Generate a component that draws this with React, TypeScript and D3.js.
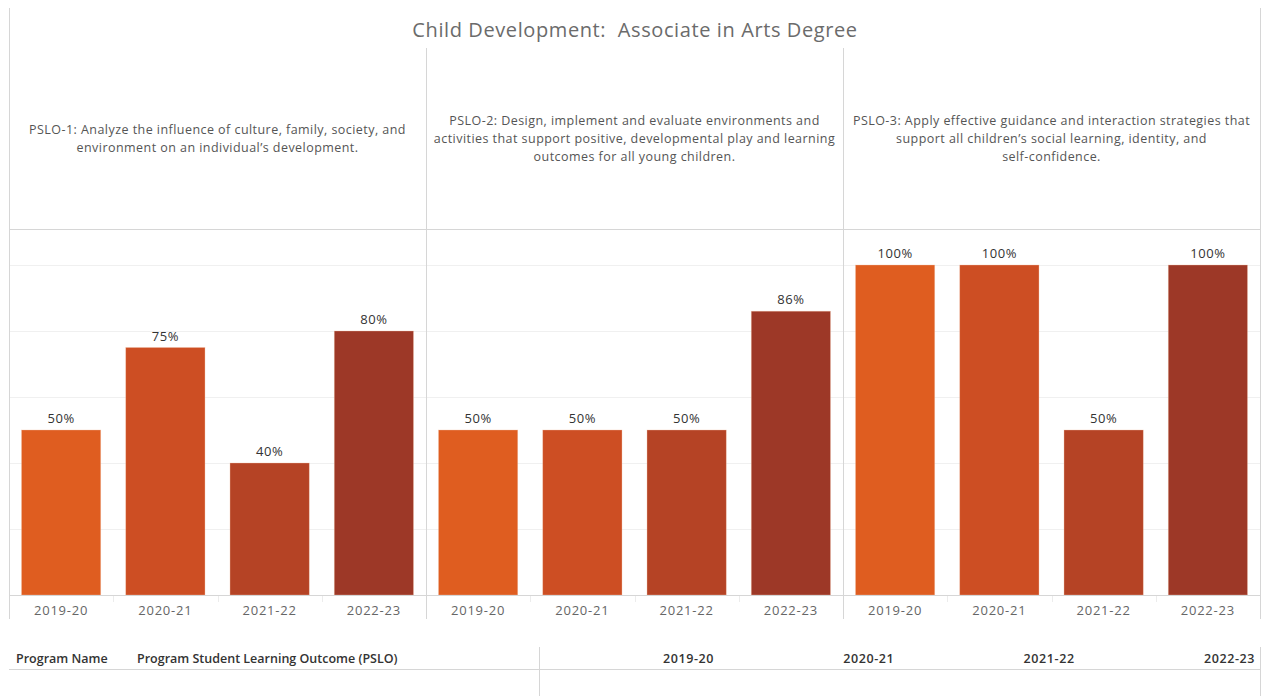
import { useEffect, useRef } from "react";
import * as d3 from "d3";

// Chart data
const years = ["2019-20", "2020-21", "2021-22", "2022-23"];
const pslos = ["PSLO-1", "PSLO-2", "PSLO-3"];
const pslo1Values = [0.5, 0.75, 0.4, 0.8];
const pslo2Values = [0.5, 0.5, 0.5, 0.86];
const pslo3Values = [1.0, 1.0, 0.5, 1.0];
const gridTicks = [0.2, 0.4, 0.6, 0.8, 1.0];
const yearColors = ["#DF5D20", "#CD4E23", "#B54325", "#9D3827"];

const psloLines = [
  [
    "PSLO-1: Analyze the influence of culture, family, society, and",
    "environment on an individual\u2019s development.",
  ],
  [
    "PSLO-2: Design, implement and evaluate environments and",
    "activities that support positive, developmental play and learning",
    "outcomes for all young children.",
  ],
  [
    "PSLO-3: Apply effective guidance and interaction strategies that",
    "support all children\u2019s social learning, identity, and",
    "self-confidence.",
  ],
];

const title = "Child Development:\u00a0 Associate in Arts Degree";
const tableHeaders = ["Program Name", "Program Student Learning Outcome (PSLO)"];

const WIDTH = 1270;
const HEIGHT = 696;
const FONT = "'Open Sans', Lato, sans-serif";

export default function App() {
  const ref = useRef<SVGSVGElement>(null);

  useEffect(() => {
    if (!ref.current) return;
    const svg = d3.select(ref.current);
    svg.selectAll("*").remove();

    const left = 9;
    const right = 1260;
    const headerTop = 48;
    const headerBottom = 229;
    const chartBottom = 619;

    const panel = d3.scaleBand<string>().domain(pslos).range([left, right]);
    const year = d3
      .scaleBand<string>()
      .domain(years)
      .range([0, panel.bandwidth()])
      .paddingInner(0.24)
      .paddingOuter(0.12);
    const y = d3.scaleLinear().domain([0, 1]).range([595, 265]);

    const data = pslos.map((p, i) => ({
      pslo: p,
      values: [pslo1Values, pslo2Values, pslo3Values][i].map((v, j) => ({ year: years[j], value: v })),
    }));

    // title
    svg.append("text")
      .attr("x", (left + right) / 2 + 0.5)
      .attr("y", 37)
      .attr("text-anchor", "middle")
      .attr("font-family", FONT)
      .attr("font-size", 20)
      .attr("letter-spacing", 0.6)
      .attr("fill", "#6b6b6b")
      .text(title);

    // gridlines
    svg.append("g")
      .selectAll("line")
      .data(gridTicks)
      .join("line")
      .attr("x1", left)
      .attr("x2", right)
      .attr("y1", d => Math.round(y(d)) + 0.5)
      .attr("y2", d => Math.round(y(d)) + 0.5)
      .attr("stroke", "#f0f0f0");

    // borders and dividers
    const lineColor = "#d6d6d6";
    svg.append("line")
      .attr("x1", left + 0.5).attr("x2", left + 0.5)
      .attr("y1", 8).attr("y2", chartBottom)
      .attr("stroke", lineColor);
    svg.append("line")
      .attr("x1", right + 0.5).attr("x2", right + 0.5)
      .attr("y1", 8).attr("y2", chartBottom)
      .attr("stroke", lineColor);
    svg.append("g")
      .selectAll("line")
      .data(pslos.slice(1))
      .join("line")
      .attr("x1", d => Math.round(panel(d)!) + 0.5)
      .attr("x2", d => Math.round(panel(d)!) + 0.5)
      .attr("y1", headerTop)
      .attr("y2", chartBottom)
      .attr("stroke", lineColor);
    svg.append("line")
      .attr("x1", left).attr("x2", right)
      .attr("y1", headerBottom + 0.5).attr("y2", headerBottom + 0.5)
      .attr("stroke", lineColor);

    // header texts
    const headers = svg.append("g")
      .attr("font-family", FONT)
      .attr("font-size", 12.5)
      .attr("letter-spacing", 0.45)
      .attr("fill", "#555");
    psloLines.forEach((lines, i) => {
      const cx = panel(pslos[i])! + panel.bandwidth() / 2;
      const lh = 18;
      const mid = (headerTop + headerBottom) / 2;
      const t = headers.append("text").attr("text-anchor", "middle");
      lines.forEach((ln, k) => {
        t.append("tspan")
          .attr("x", cx)
          .attr("y", mid + (k - (lines.length - 1) / 2) * lh + 4.5)
          .text(ln);
      });
    });

    // panels
    const panels = svg.append("g")
      .selectAll("g")
      .data(data)
      .join("g")
      .attr("transform", d => `translate(${panel(d.pslo)},0)`);

    panels.selectAll("rect")
      .data(d => d.values)
      .join("rect")
      .attr("x", d => year(d.year)!)
      .attr("y", d => y(d.value))
      .attr("width", year.bandwidth())
      .attr("height", d => y(0) - y(d.value))
      .attr("fill", (_, j) => yearColors[j])
      .attr("stroke", "#f2c1a8")
      .attr("stroke-width", 0.6)
      .attr("stroke-opacity", 0.6);

    panels.selectAll("text.value")
      .data(d => d.values)
      .join("text")
      .attr("class", "value")
      .attr("x", d => year(d.year)! + year.bandwidth() / 2)
      .attr("y", d => y(d.value) - 7)
      .attr("text-anchor", "middle")
      .attr("font-family", FONT)
      .attr("font-size", 13)
      .attr("letter-spacing", 0.6)
      .attr("fill", "#333")
      .text(d => d3.format(".0%")(d.value));

    // axis ticks between categories
    panels.selectAll("line.tick")
      .data(years.slice(1))
      .join("line")
      .attr("class", "tick")
      .attr("x1", d => Math.round(year(d)! - (year.step() * year.paddingInner()) / 2) + 0.5)
      .attr("x2", d => Math.round(year(d)! - (year.step() * year.paddingInner()) / 2) + 0.5)
      .attr("y1", y(0))
      .attr("y2", y(0) + 7)
      .attr("stroke", "#ececec");

    panels.selectAll("text.year")
      .data(years)
      .join("text")
      .attr("class", "year")
      .attr("x", d => year(d)! + year.bandwidth() / 2)
      .attr("y", 615)
      .attr("text-anchor", "middle")
      .attr("font-family", FONT)
      .attr("font-size", 13)
      .attr("letter-spacing", 0.8)
      .attr("fill", "#666")
      .text(d => d);

    // baseline
    svg.append("line")
      .attr("x1", left).attr("x2", right)
      .attr("y1", Math.round(y(0)) + 0.5).attr("y2", Math.round(y(0)) + 0.5)
      .attr("stroke", lineColor);

    // bottom table header
    const table = svg.append("g")
      .attr("font-family", FONT)
      .attr("font-size", 12.5)
      .attr("font-weight", 600)
      .attr("fill", "#333");
    table.selectAll("text.h")
      .data(tableHeaders)
      .join("text")
      .attr("class", "h")
      .attr("x", (_, i) => [16, 137][i])
      .attr("y", 663)
      .text(d => d);

    const col = d3.scalePoint<string>().domain(years).range([714, 1255]);
    table.selectAll("text.y")
      .data(years)
      .join("text")
      .attr("class", "y")
      .attr("x", d => col(d)!)
      .attr("y", 663)
      .attr("text-anchor", "end")
      .attr("letter-spacing", 0.6)
      .text(d => d);

    svg.append("line")
      .attr("x1", left).attr("x2", right)
      .attr("y1", 669.5).attr("y2", 669.5)
      .attr("stroke", lineColor);
    svg.append("line")
      .attr("x1", 539.5).attr("x2", 539.5)
      .attr("y1", 647).attr("y2", HEIGHT)
      .attr("stroke", lineColor);
    svg.append("line")
      .attr("x1", right + 0.5).attr("x2", right + 0.5)
      .attr("y1", 647).attr("y2", HEIGHT)
      .attr("stroke", lineColor);
  }, []);

  return (
    <div style={{ position: "absolute", left: 0, top: 0 }}>
      <svg ref={ref} width={WIDTH} height={HEIGHT} style={{ display: "block", background: "#fff" }} />
    </div>
  );
}
